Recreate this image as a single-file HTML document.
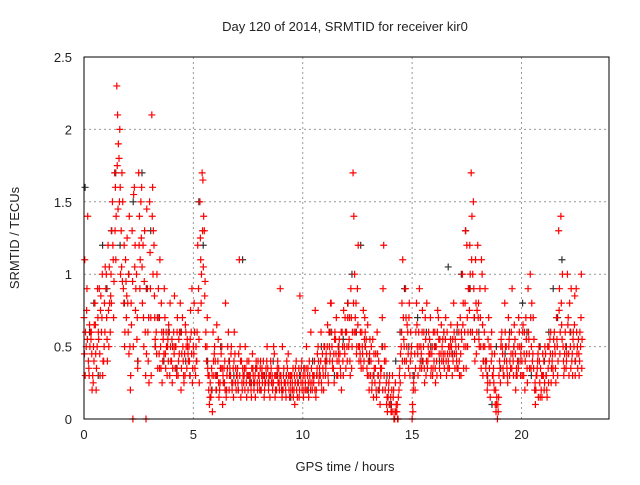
<!DOCTYPE html>
<html><head><meta charset="utf-8"><style>
body{margin:0;background:#fff;font-family:"Liberation Sans",sans-serif}
svg text{font-family:"Liberation Sans",sans-serif;font-size:13px;fill:#222}
</style></head><body>
<svg id="chart" width="640" height="480">
<text x="345" y="31" text-anchor="middle">Day 120 of 2014, SRMTID for receiver kir0</text>
<text x="345" y="471" text-anchor="middle">GPS time / hours</text>
<text transform="translate(19,238) rotate(-90)" text-anchor="middle">SRMTID / TECUs</text>
<g id="grid"></g><g id="ticks"></g><g id="pts"></g>
<rect x="84" y="57" width="525" height="362" fill="none" stroke="#000" stroke-width="1"/>
</svg>
<script>
const xTicks=[0,5,10,15,20];
const yTicks=[0,0.5,1,1.5,2,2.5];
const yTickLabels=["0","0.5","1","1.5","2","2.5"];
const tStart=0, tStep=0.1, blackStep=0.2;
const red1=[.7,.5,.4,.6,.3,.8,.5,.9,.6,.4, .9,1.2,.6,1.5,1.7,2.3,1.8,1.3,.9,1.1, .8,.5,1.3,1.6,1.0,1.7,1.5,1.2,.6,.9, 1.5,2.1,1.2,.6,.9,.5,.4,.7,.3,.6, .4,.6,.5,.3,.8,.7,.45,.35,.5,.6, .5,.3,1.2,1.5,1.7,1.3,.4,.2,.15,.6, .4,.3,.2,.5,.35,.15,.6,.3,.25,.45, .3,1.1,.4,.25,.35,.2,.3,.45,.25,.35, .3,.2,.4,.25,.35,.15,.3,.45,.2,.35, .3,.2,.25,.35,.15,.3,.2,.4,.25,.3, .25,.3,.2,.4,.35,.25,.15,.5,.3,.45, .5,.4,.6,.8,.35,.55,.3,.45,.6,.5, .6,.5,.9,1.7,.7,.9,.5,.6,.4,.55, .4,.3,.55,.25,.6,.2,.35,1.2,.4,.15, .1,.3,0,.05,.2,.5,.7,.9,.6,.3, 0,.3,.8,.6,.5,.4,.7,.35,.55,.45, .4,.5,.7,.3,.55,.45,.6,.35,.5,.8, .5,.35,.7,1.0,.6,1.2,.9,1.7,1.5,1.1, 1.2,.9,1.0,.6,.4,.7,.5,.3,.1,0, .4,.6,.3,.5,.7,.35,.45,.55,.3,.6, .5,.3,.7,.9,1.0,.4,.2,.3,.5,.2, .3,.45,.5,.55,.4,.6,.7,1.3,1.4,.5, .6,1.0,.8,.4,.5,.9,.55,.5];
const red2=[1.1,.9,.3,.6,.5,.45,.7,.3,1.0,.8, .7,.5,1.0,1.1,1.6,2.1,2.0,1.7,1.2,.7, 1.0,.3,0,1.2,.7,1.4,1.6,.5,0,.4, .9,1.6,.7,1.0,.45,.8,.6,.35,.55,.8, .25,.85,.3,.55,.2,.4,.65,.5,.3,.9, .8,.4,.9,1.1,1.65,.95,.7,.1,.35,.3, .2,.55,.35,.1,.4,.3,.2,.5,.15,.35, .25,.5,.2,.35,.15,.4,.2,.3,.15,.2, .2,.35,.15,.3,.2,.4,.25,.15,.35,.2, .2,.35,.15,.45,.25,.2,.1,.3,.15,.35, .15,.2,.35,.25,.2,.4,.3,.25,.6,.3, .3,.65,.4,.5,.25,.7,.45,.3,.4,.7, .4,.7,.35,1.4,.8,1.2,.6,.45,.7,.35, .2,.5,.15,.45,.3,.1,.7,.4,.1,.25, .05,.15,.25,0,.35,.8,.5,.4,.35,.6, .05,.2,.5,.9,.35,.6,.3,.5,.7,.3, .6,.3,.45,.65,.4,.7,.35,.5,.3,.45, .4,.6,.3,.8,1.3,.5,1.2,1.4,.7,.45, .8,.5,.3,.9,.2,.35,.6,.25,.05,.05, .25,.45,.8,.35,.55,.6,.3,.2,.5,.4, .3,.6,.45,.55,.35,.7,.1,.4,.25,.15, .2,.3,.25,.6,.35,.45,.5,.9,.65,.3, .35,.7,.5,.3,.85,.45,.3,1.0];
const red3=[.6,1.4,.5,.2,.65,.35,.55,.85,.4,1.05, .4,.8,1.3,.95,1.4,1.9,1.0,1.5,.6,1.25, 1.4,.65,1.55,.9,.4,1.1,.8,1.3,1.45,.25, .3,1.3,.5,.35,1.1,.25,.9,.5,.65,.4, .5,.35,.7,.6,.45,.25,.5,.4,.75,.35, .35,.6,.25,1.0,1.4,.6,.3,.25,.05,.5, .65,.15,.45,.25,.8,.5,.35,.2,.6,.3, .45,.15,.3,.5,.3,.25,.35,.2,.4,.3, .4,.3,.25,.5,.3,.25,.5,.3,.25,.9, .5,.25,.4,.2,.3,.15,.35,.25,.85,.2, .35,.5,.15,.6,.3,.75,.45,.35,.2,.5, .45,.25,.8,.35,.6,.4,.55,.2,.75,.35, .8,.3,.6,1.0,.5,.4,.35,.75,.5,.65, .55,.25,.35,.15,.4,.3,.9,.2,.05,.3, .2,0,.1,.15,.45,1.1,.3,.65,.8,.5, .25,.6,.3,.4,.75,.25,.8,.45,.35,.6, .25,.75,.55,.5,.35,.3,.5,.65,.4,.55, .65,.3,.55,.5,.35,.9,.6,1.0,.4,.75, .5,1.1,.4,.35,.55,.15,.3,.45,.15,.3, .55,.3,.5,.25,.4,.9,.65,.35,.7,.45, .65,.4,.25,.35,.8,.55,.3,.15,.35,.45, .5,.15,.4,.35,.55,.25,.4,.6,1.0,.45, .45,.3,.9,.6,.4,.35,.6,.55];
const red4=[.45,.75,.35,.55,.25,.65,.9,.45,.7,.5, 1.0,.75,.85,1.2,1.3,1.75,1.5,1.05,.8,.95, .6,.2,.95,1.05,.55,1.2,1.25,.7,.3,.6, 1.15,1.4,.85,.45,.7,.35,.55,.45,.5,.3, .55,.45,.35,.4,.6,.5,.3,.55,.4,.45, .45,.5,.75,1.25,1.3,.85,.5,.3,.2,.4, .3,.4,.25,.35,.25,.2,.4,.45,.35,.25, .35,.3,.25,.3,.25,.3,.25,.35,.3,.25, .25,.3,.3,.35,.25,.3,.2,.3,.3,.25, .25,.3,.2,.25,.3,.25,.3,.2,.35,.25, .3,.25,.3,.3,.25,.3,.2,.4,.4,.35, .4,.5,.5,.6,.45,.45,.5,.35,.5,.45, .5,.55,.7,.8,.6,.65,.45,.5,.55,.45, .3,.4,.3,.35,.45,.25,.5,.3,.25,.2, .15,.05,.05,.1,.3,.6,.55,.7,.45,.4, .1,.45,.65,.5,.45,.5,.55,.4,.45,.5, .5,.4,.55,.45,.45,.55,.45,.45,.45,.6, .45,.5,.45,.65,.8,.7,.75,1.1,.9,.8, .7,.7,.65,.5,.3,.5,.4,.35,.2,.1, .35,.5,.4,.4,.5,.45,.4,.45,.4,.5, .4,.45,.55,.6,.7,.45,.25,.35,.4,.3, .4,.3,.35,.45,.45,.5,.55,.75,.8,.4, .5,.65,.6,.45,.65,.6,.45,.7];
const red5=[.3,.55,.65,.45,.4,.2,.6,.75,.3,.6, .55,1.05,.8,.7,1.1,1.45,1.6,.95,.5,.85, .45,.8,.5,.75,.35,.9,1.05,.95,.45,.7, .7,1.0,.55,.7,.35,.6,.45,.6,.4,.5, .35,.5,.6,.45,.35,.3,.6,.45,.55,.25, .6,.4,.55,.8,1.05,.5,.35,.15,.3,.45, .2,.25,.35,.3,.2,.35,.3,.25,.4,.2, .2,.4,.35,.2,.4,.3,.15,.25,.35,.4, .35,.25,.2,.4,.3,.35,.25,.2,.4,.3, .15,.25,.3,.3,.2,.35,.25,.15,.2,.4, .2,.35,.25,.2,.3,.2,.35,.3,.25,.2, .35,.3,.45,.4,.55,.3,.4,.6,.3,.6, .7,.4,.5,.6,.45,.5,.4,.35,.6,.3, .45,.2,.45,.2,.3,.35,.2,.5,.15,.1, .05,.2,.05,0,.25,.4,.4,.5,.7,.45, .2,.35,.45,.35,.6,.35,.4,.6,.3,.35, .35,.6,.35,.4,.6,.4,.4,.55,.55,.35, .35,.4,.6,.35,.5,.6,1.0,.6,.55,.6, .55,.35,.5,.4,.25,.25,.45,.2,.1,.15, .5,.35,.6,.3,.3,.35,.5,.3,.35,.3, .6,.2,.35,.45,.5,.35,.2,.45,.15,.3, .25,.2,.5,.25,.3,.35,.3,.45,.55,.35, .4,.45,.35,.55,.3,.5,.4,.35];
const black=[1.6,.6,.8,.3,1.2, .9,1.3,1.7,1.2,.8, 1.0,1.5,.4,1.7,.9, 1.3,.5,.7,.4,.6, .5,.35,.6,.4,.3, .6,1.5,1.2,.4,.2, .3,.5,.2,.4,.3, .2,1.1,.3,.25,.35, .2,.3,.25,.4,.3, .2,.3,.15,.25,.3, .35,.2,.4,.3,.5, .4,.6,.3,.5,.55, .8,1.0,.6,1.2,.5, .4,.3,.2,.5,.3, .1,.4,.6,.9,.5, .3,.7,.4,.6,.5, .5,.4,.6,1.05,.45, .6,1.0,1.3,.9,.7, .6,.4,.3,.1,.5, .35,.45,.6,.5,.4, .8,.6,.3,.2,.5, .4,.6,.9,.7,1.1, .5,.6,.4];
const NS='http://www.w3.org/2000/svg';
const X0=84,X1=609,Y0=419,Y1=57,XMAX=24,YMAX=2.5;
const xs=t=>X0+(X1-X0)*t/XMAX, ys=v=>Y0-(Y0-Y1)*v/YMAX;
const grid=document.getElementById('grid'),ticks=document.getElementById('ticks'),pts=document.getElementById('pts');
function mk(tag,attrs,parent){const e=document.createElementNS(NS,tag);for(const k in attrs)e.setAttribute(k,attrs[k]);parent.appendChild(e);return e;}
xTicks.forEach(t=>{const x=xs(t);
 if(t>0){const g=mk('line',{x1:x,x2:x,y1:Y0,y2:Y1,stroke:'#999','stroke-dasharray':'2,3'},grid);
 
 }
 const l=mk('text',{x:x,y:Y0+20,'text-anchor':'middle'},ticks);l.textContent=t;
 
 });
yTicks.forEach((v,i)=>{const y=ys(v);
 if(v>0&&v<YMAX){const g=mk('line',{x1:X0,x2:X1,y1:y,y2:y,stroke:'#999','stroke-dasharray':'2,3'},grid);
 
 }
 const l=mk('text',{x:X0-12,y:y+5,'text-anchor':'end'},ticks);l.textContent=yTickLabels[i];
 
 });
function cross(t,v,col,name){if(t>XMAX||v>YMAX)return;const x=xs(t),y=ys(v);
 const p=mk('path',{d:`M${x-3.5},${y}h7M${x},${y-3.5}v7`,stroke:col,'stroke-width':1.2,fill:'none'},pts);
 
 }
black.forEach((v,i)=>cross(tStart+i*blackStep+0.05,v,'#333','black-point'));
red1.forEach((v,i)=>cross(tStart+i*tStep,v,'#f00','red-point'));
red2.forEach((v,i)=>cross(tStart+i*tStep+0.035,v,'#f00','red-point'));
red3.forEach((v,i)=>cross(tStart+i*tStep+0.07,v,'#f00','red-point'));
red4.forEach((v,i)=>cross(tStart+i*tStep+0.02,v,'#f00','red-point'));
red5.forEach((v,i)=>cross(tStart+i*tStep+0.055,v,'#f00','red-point'));
</script>
</body></html>
